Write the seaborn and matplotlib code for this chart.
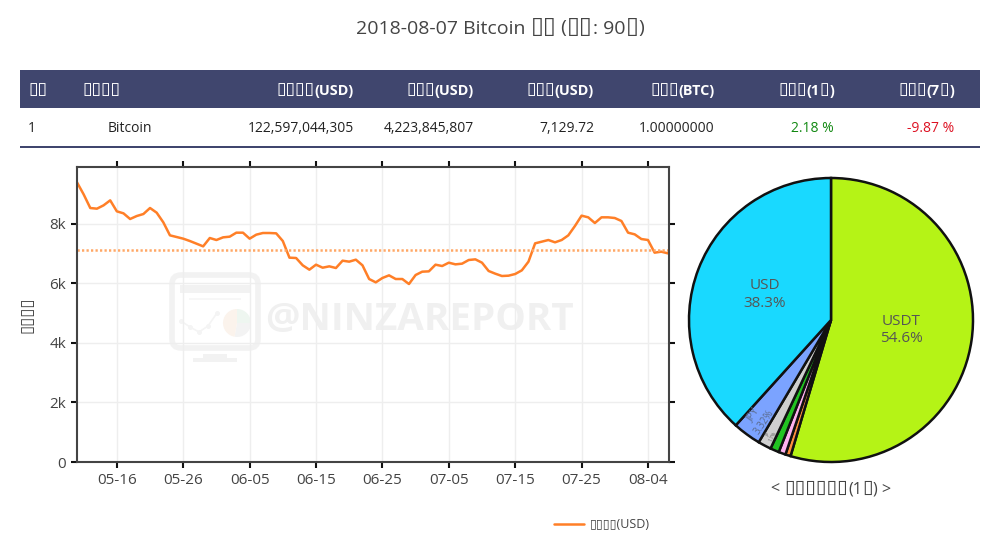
import re
import matplotlib
matplotlib.use('Agg')
import matplotlib.pyplot as plt
import matplotlib.dates as mdates
from matplotlib.patches import FancyBboxPatch, Rectangle, Wedge
from matplotlib.ticker import FuncFormatter
import seaborn as sns
import pandas as pd
import numpy as np

sns.set_style("white")
plt.rcParams['font.family'] = ['Open Sans', 'DejaVu Sans']

# --- data ---
# the CJK words show up as empty boxes in the reference, so they stay boxes here
BOX = '\u25af'
title = f'2018-08-07 Bitcoin {BOX*2} ({BOX*2}: 90{BOX})'
headers = [BOX*2, BOX*4, BOX*4 + '(USD)', BOX*3 + '(USD)', BOX*3 + '(USD)', BOX*3 + '(BTC)',
           BOX*3 + f'(1{BOX})', BOX*3 + f'(7{BOX})']
row = ['1', 'Bitcoin', '122,597,044,305', '4,223,845,807', '7,129.72', '1.00000000', '2.18 %', '-9.87 %']
pie_title = f'< {BOX*6}(1{BOX}) >'

dates = pd.date_range('2018-05-10', '2018-08-07')
price = [9385, 8982, 8524, 8501, 8613, 8781, 8412, 8345, 8155, 8255,
         8322, 8524, 8367, 8043, 7606, 7551, 7495, 7416, 7327, 7237,
         7517, 7450, 7539, 7562, 7696, 7696, 7495, 7629, 7685, 7685,
         7674, 7416, 6857, 6846, 6600, 6454, 6622, 6521, 6566, 6510,
         6756, 6723, 6790, 6600, 6141, 6029, 6175, 6264, 6141, 6141,
         5973, 6275, 6387, 6398, 6622, 6577, 6689, 6633, 6656, 6779,
         6801, 6689, 6410, 6320, 6242, 6253, 6309, 6432, 6723, 7338,
         7394, 7450, 7372, 7450, 7606, 7920, 8267, 8211, 8020, 8211,
         8211, 8188, 8088, 7696, 7640, 7483, 7450, 7025, 7058, 7002]
current_price = 7129.72
y_ticks = [0, 2000, 4000, 6000, 8000]
x_ticks = ['2018-05-16', '2018-05-26', '2018-06-05', '2018-06-15', '2018-06-25',
           '2018-07-05', '2018-07-15', '2018-07-25', '2018-08-04']

pie_values = [54.6, 0.6, 0.8, 1.0, 1.5, 3.2, 38.3]
pie_colors = ['#b5f316', '#ff8f3f', '#ffb3f0', '#22c322', '#cfcfcf', '#7ba3ff', '#19d9ff']

NAVY = '#40466e'
GREY = '#444444'
W, H = 1000, 550

fig = plt.figure(figsize=(10, 5.5), dpi=100)

def px_axes(left, top, right, bottom, **kw):
    return fig.add_axes([left / W, 1 - bottom / H, (right - left) / W, (bottom - top) / H], **kw)

# overlay in pixel coordinates for title, table and watermark
bg = px_axes(0, 0, W, H, zorder=0)
bg.set_xlim(0, W)
bg.set_ylim(H, 0)
bg.axis('off')

def box_text(x, y, txt, ha='left', fontsize=10, box_scale=1.2, **kw):
    # the box glyph is too small at text size, so boxes go in as larger runs
    renderer = fig.canvas.get_renderer()
    parts = []
    for run in re.findall(f'{BOX}+|[^{BOX}]+', txt):
        size = fontsize * box_scale if run[0] == BOX else fontsize
        t = bg.text(0, y, run, ha='left', va='baseline', fontsize=size, **kw)
        parts.append((t, t.get_window_extent(renderer).width))
    total = sum(w for _, w in parts)
    pos = {'left': x, 'center': x - total / 2, 'right': x - total}[ha]
    for t, w in parts:
        t.set_x(pos)
        pos += w

box_text(500, 33.5, title, ha='center', fontsize=14, color=GREY)
bg.add_patch(Rectangle((20, 70), 960, 38, color=NAVY, lw=0))
bg.add_patch(Rectangle((20, 145.5), 960, 2.7, color=NAVY, lw=0))

header_x = [28, 82, 354, 474, 594, 715, 834, 954]
header_ha = ['left', 'left'] + ['right'] * 6
row_x = [28, 130, 354, 474, 594, 714, 834, 954]
row_ha = ['left', 'center'] + ['right'] * 6
row_colors = ['#222222'] * 6 + ['#118811', '#dd1122']
for x, ha, txt in zip(header_x, header_ha, headers):
    box_text(x, 94.5, txt, ha=ha, color='white', fontsize=10.4, fontweight='bold')
for x, ha, txt, c in zip(row_x, row_ha, row, row_colors):
    bg.text(x, 128, txt, ha=ha, va='center', color=c, fontsize=10)

# watermark
WM = '#f2f2f2'
bg.add_patch(FancyBboxPatch((172, 275), 86, 73, boxstyle='round,pad=0,rounding_size=9',
                            fc='none', ec=WM, lw=4))
bg.add_patch(Rectangle((180, 285), 70, 8, color=WM, lw=0))
bg.add_patch(Rectangle((189, 298), 52, 2, color='#f7f7f7', lw=0))
bg.plot([181, 190, 199, 208, 217], [321, 327, 332, 326, 313], color='#f4f4f4', lw=1.2, marker='o', ms=2.5)
bg.add_patch(Wedge((237, 323), 14, -90, 0, color='#eef6f0', lw=0))
bg.add_patch(Wedge((237, 323), 14, 0, 100, color='#f3f3f3', lw=0))
bg.add_patch(Wedge((237, 323), 14, 100, 270, color='#fbf3ec', lw=0))
bg.add_patch(Rectangle((203, 354), 24, 4, color=WM, lw=0))
bg.add_patch(Rectangle((193, 358), 44, 4, color=WM, lw=0))
bg.text(265, 320, '@NINZAREPORT', ha='left', va='center', color='#f0f0f0', fontsize=27.7, fontweight='bold')

# line chart
ax = px_axes(77, 167, 669, 462, zorder=1)
ax.patch.set_alpha(0)
df = pd.DataFrame({'date': dates, 'price': price})
sns.lineplot(data=df, x='date', y='price', ax=ax, color='#ff7f27', lw=1.8, label=BOX*4 + '(USD)')
ax.axhline(current_price, color='#ffa866', lw=1.8, ls=(0, (0.9, 0.9)))
ax.set_xlim(pd.Timestamp('2018-05-10'), pd.Timestamp('2018-08-07 04:00'))
ax.set_ylim(0, 9900)
ax.set_xticks(pd.to_datetime(x_ticks))
ax.set_yticks(y_ticks)
ax.xaxis.set_major_formatter(mdates.DateFormatter('%m-%d'))
ax.yaxis.set_major_formatter(FuncFormatter(lambda v, _: '0' if v == 0 else f'{int(v / 1000)}k'))
ax.set_xlabel('')
ax.set_ylabel(BOX*4, fontsize=12, color=GREY)
ax.yaxis.set_label_coords(-42 / 592, 0.5)
ax.grid(True, color='#eeeeee', lw=1)
ax.tick_params(axis='both', which='major', direction='out', length=4, width=1.5, color='#111111',
               labelcolor=GREY, labelsize=11, top=True, right=True, bottom=True, left=True, pad=4)
for s in ax.spines.values():
    s.set_visible(True)
    s.set_color(GREY)
    s.set_linewidth(1.5)

ax.legend(loc='center left', bbox_to_anchor=(551 / W, 1 - 525 / H), bbox_transform=fig.transFigure,
          frameon=False, fontsize=9, labelcolor=GREY, handlelength=2.4, handletextpad=0.5,
          borderpad=0.2, borderaxespad=0)

# pie chart
pie_ax = px_axes(689, 178, 973, 462, zorder=1)
wedges, _ = pie_ax.pie(pie_values, colors=pie_colors, startangle=90, counterclock=False, radius=1,
                       wedgeprops={'edgecolor': '#111111', 'linewidth': 1.8})
pie_ax.set_xlim(-1, 1)
pie_ax.set_ylim(-1, 1)

for w, name, val in zip(wedges[:1] + wedges[-1:], ['USDT', 'USD'], [pie_values[0], pie_values[-1]]):
    ang = np.deg2rad((w.theta1 + w.theta2) / 2)
    pie_ax.text(0.5 * np.cos(ang), 0.5 * np.sin(ang), f'{name}\n{val}%', ha='center', va='center',
                fontsize=11, color='#555555', linespacing=1.2)

# tiny labels squeezed into the narrow slices
jpy = wedges[5]
ang = np.deg2rad((jpy.theta1 + jpy.theta2) / 2)
pie_ax.text(0.86 * np.cos(ang), 0.86 * np.sin(ang), 'JPY\n3.32%', ha='center', va='center', fontsize=7,
            color='#5a6a8a', rotation=56, rotation_mode='anchor', linespacing=1.25)
grey = wedges[4]
ang = np.deg2rad((grey.theta1 + grey.theta2) / 2)
pie_ax.text(0.92 * np.cos(ang), 0.92 * np.sin(ang), 'JP\n1.7%', ha='center', va='center', fontsize=3.5,
            color='#666666', rotation=62, rotation_mode='anchor')

box_text(831, 493, pie_title, ha='center', fontsize=11.6, color=GREY)

plt.savefig('out.png', dpi=100)
